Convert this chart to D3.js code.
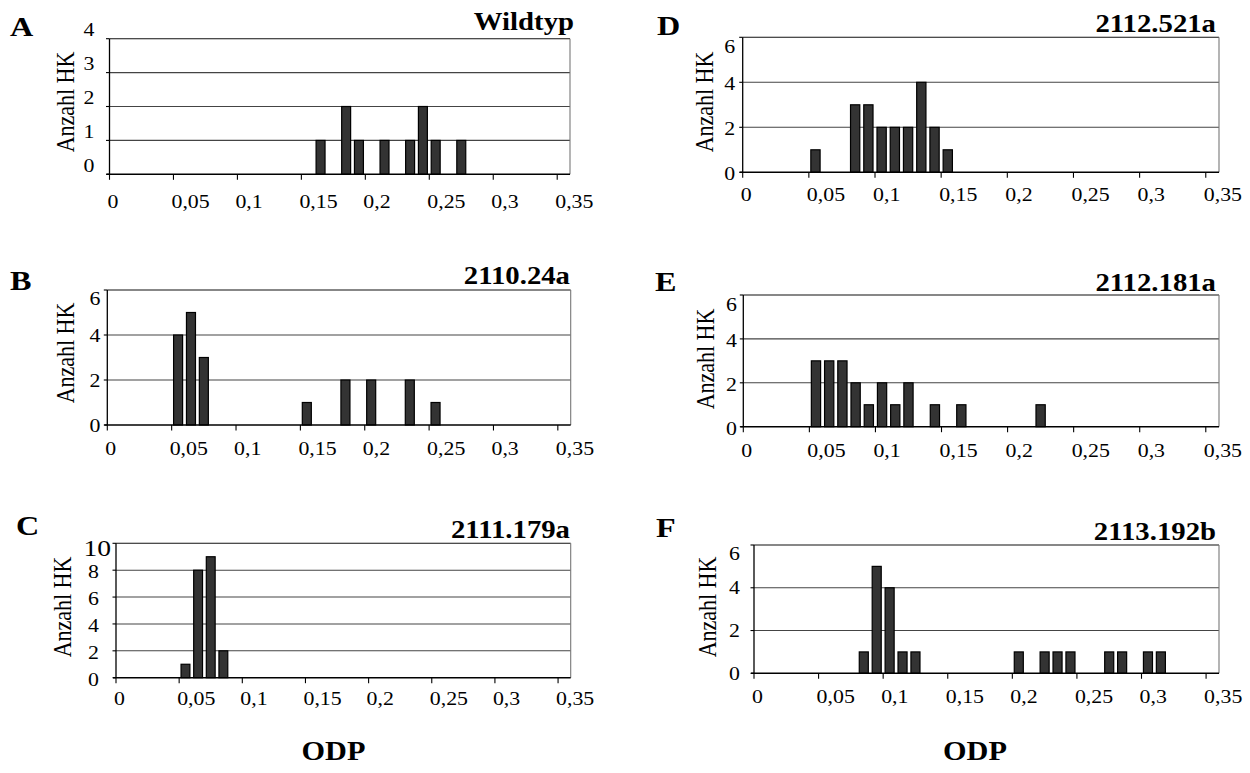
<!DOCTYPE html>
<html lang="de">
<head>
<meta charset="UTF-8">
<title>ODP Histogramme</title>
<style>
  body { margin: 0; background: #fff; }
  svg text { font-family: "Liberation Serif", "Times New Roman", serif; fill: #000; }
</style>
</head>
<body>
<div id="chart"></div>
<script src="https://d3js.org/d3.v7.min.js"></script>
<script>
// panel letters and strain names
const panelLetters = ["A", "B", "C", "D", "E", "F"];
const panelTitles = ["Wildtyp", "2110.24a", "2111.179a", "2112.521a", "2112.181a", "2113.192b"];

// ODP bin start (bins of 0.01) and Anzahl HK per bin
const odpA = [0.16, 0.18, 0.19, 0.21, 0.23, 0.24, 0.25, 0.27];
const countA = [1, 2, 1, 1, 1, 2, 1, 1];
const odpB = [0.05, 0.06, 0.07, 0.15, 0.18, 0.20, 0.23, 0.25];
const countB = [4, 5, 3, 1, 2, 2, 2, 1];
const odpC = [0.05, 0.06, 0.07, 0.08];
const countC = [1, 8, 9, 2];
const odpD = [0.05, 0.08, 0.09, 0.10, 0.11, 0.12, 0.13, 0.14, 0.15];
const countD = [1, 3, 3, 2, 2, 2, 4, 2, 1];
const odpE = [0.05, 0.06, 0.07, 0.08, 0.09, 0.10, 0.11, 0.12, 0.14, 0.16, 0.22];
const countE = [3, 3, 3, 2, 1, 2, 1, 2, 1, 1, 1];
const odpF = [0.08, 0.09, 0.10, 0.11, 0.12, 0.20, 0.22, 0.23, 0.24, 0.27, 0.28, 0.30, 0.31];
const countF = [1, 5, 4, 1, 1, 1, 1, 1, 1, 1, 1, 1, 1];

const yMax = [4, 6, 10, 6, 6, 6];
const yStep = [1, 2, 2, 2, 2, 2];
const xTicks = [0, 0.05, 0.1, 0.15, 0.2, 0.25, 0.3, 0.35];
const xTickLabels = ["0", "0,05", "0,1", "0,15", "0,2", "0,25", "0,3", "0,35"];
const binWidth = 0.01;
const xMax = 0.36;

const odpSets = [odpA, odpB, odpC, odpD, odpE, odpF];
const countSets = [countA, countB, countC, countD, countE, countF];

// layout of each panel (pixels)
const layout = [
  { left: 109.5, right: 570, top: 38.7, bottom: 174.3, letter: [10, 36], title: [574, 30], ylab: [68, 102], yGap: 15, xGap: 34, yShift: -9, topShift: 0 },
  { left: 107.3, right: 570.7, top: 290, bottom: 425, letter: [10, 290], title: [570, 284], ylab: [68, 353], yGap: 7, xGap: 30, yShift: 1, topShift: 8 },
  { left: 116, right: 570.7, top: 543.3, bottom: 677.7, letter: [16, 535], title: [570, 538], ylab: [65, 607], yGap: 17, xGap: 27, yShift: 1.5, topShift: 3, topSize: 24, topGap: 5 },
  { left: 742.7, right: 1219, top: 37.3, bottom: 172.3, letter: [657, 35], title: [1216, 32], ylab: [707, 102], yGap: 7.5, xGap: 29, yShift: 1, topShift: 8 },
  { left: 743.3, right: 1219, top: 295, bottom: 426.7, letter: [655, 291], title: [1216, 291], ylab: [708, 359], yGap: 6.5, xGap: 30, yShift: 2, topShift: 8 },
  { left: 754, right: 1219, top: 545, bottom: 673.3, letter: [656, 537], title: [1216, 540], ylab: [710, 607], yGap: 14, xGap: 30, yShift: 0, topShift: 9 }
];

const SX = 1.15;       // glyphs in the original are a bit wider than tall
const tickSize = 19;

const svg = d3.select("#chart").append("svg")
  .attr("width", 1250)
  .attr("height", 773);

// text helper: place at x,y with a horizontal stretch
function addText(g, x, y, str, size, opts = {}) {
  const sx = opts.sx || SX;
  let tf = `translate(${x},${y}) scale(${sx},1)`;
  if (opts.rotate) tf += ` rotate(${opts.rotate})`;
  return g.append("text")
    .attr("transform", tf)
    .attr("font-size", size + "px")
    .attr("font-weight", opts.bold ? "bold" : "normal")
    .attr("text-anchor", opts.anchor || "start")
    .text(str);
}

layout.forEach((L, i) => {
  const g = svg.append("g").attr("class", "panel");

  const x = d3.scaleLinear().domain([0, xMax]).range([L.left, L.right]);
  const y = d3.scaleLinear().domain([0, yMax[i]]).range([L.bottom, L.top]);
  const yTicks = d3.range(0, yMax[i] + 0.001, yStep[i]);

  // gridlines
  g.selectAll(".grid")
    .data(yTicks.filter(t => t > 0))
    .join("line")
    .attr("x1", L.left).attr("x2", L.right)
    .attr("y1", d => y(d)).attr("y2", d => y(d))
    .attr("stroke", d => d === yMax[i] ? "#111" : "#444")
    .attr("stroke-width", 1.1);

  // right border
  g.append("line")
    .attr("x1", L.right).attr("x2", L.right)
    .attr("y1", L.top).attr("y2", L.bottom)
    .attr("stroke", "#777").attr("stroke-width", 1.1);

  // bars
  const data = odpSets[i].map((v, k) => ({ odp: v, n: countSets[i][k] }));
  const bw = x(binWidth) - x(0);
  const inset = bw * 0.15;
  g.selectAll(".bar")
    .data(data)
    .join("rect")
    .attr("class", "bar")
    .attr("x", d => x(d.odp) + inset)
    .attr("width", bw - 2 * inset)
    .attr("y", d => y(d.n))
    .attr("height", d => y(0) - y(d.n))
    .attr("fill", "#333")
    .attr("stroke", "#000")
    .attr("stroke-width", 1.2);

  // axes lines
  g.append("line")
    .attr("x1", L.left).attr("x2", L.left)
    .attr("y1", L.top).attr("y2", L.bottom)
    .attr("stroke", "#000").attr("stroke-width", 1.3);
  g.append("line")
    .attr("x1", L.left - 3).attr("x2", L.right)
    .attr("y1", L.bottom).attr("y2", L.bottom)
    .attr("stroke", "#000").attr("stroke-width", 1.6);

  // y ticks
  g.selectAll(".ytick")
    .data(yTicks)
    .join("line")
    .attr("x1", L.left - 3.5).attr("x2", L.left)
    .attr("y1", d => y(d)).attr("y2", d => y(d))
    .attr("stroke", "#000").attr("stroke-width", 1.1);

  yTicks.forEach(t => {
    const isTop = t === yMax[i];
    const size = isTop && L.topSize ? L.topSize : tickSize;
    const gap = isTop && L.topGap ? L.topGap : L.yGap;
    const cy = y(t) + L.yShift + (isTop ? L.topShift : 0);
    addText(g, L.left - gap, cy + size * 0.34, String(t), size, { anchor: "end" });
  });

  // x ticks
  g.selectAll(".xtick")
    .data(xTicks)
    .join("line")
    .attr("x1", d => x(d)).attr("x2", d => x(d))
    .attr("y1", L.bottom).attr("y2", L.bottom + 5.5)
    .attr("stroke", "#000").attr("stroke-width", 1.1);

  xTicks.forEach((t, k) => {
    addText(g, x(t) - 2, L.bottom + L.xGap, xTickLabels[k], tickSize);
  });

  // y axis label
  addText(g, L.ylab[0] + 6, L.ylab[1], "Anzahl HK", 22, { anchor: "middle", rotate: -90 });

  // panel letter and title
  addText(g, L.letter[0], L.letter[1], panelLetters[i], 28, { bold: true });
  addText(g, L.title[0], L.title[1], panelTitles[i], 25, { bold: true, anchor: "end" });
});

// shared x axis titles
addText(svg, 333.5, 760, "ODP", 28, { bold: true, anchor: "middle", sx: 1.08 });
addText(svg, 975, 760, "ODP", 28, { bold: true, anchor: "middle", sx: 1.08 });
</script>
</body>
</html>
